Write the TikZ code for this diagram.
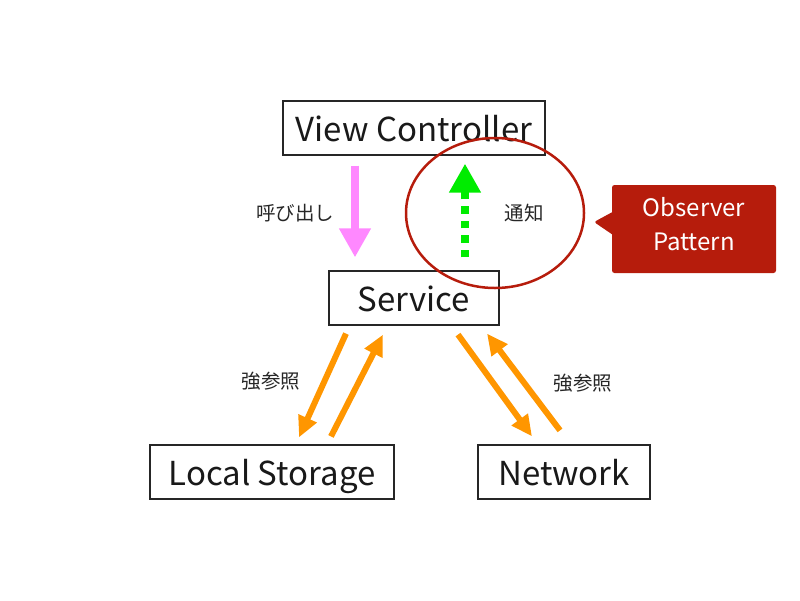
\documentclass[tikz,border=0pt]{standalone}
\usepackage{fontspec}
\setmainfont{Noto Sans CJK JP}
\usepackage{xcolor}
\usetikzlibrary{arrows.meta,shapes.geometric,shapes.callouts}

\definecolor{callpink}{RGB}{255,136,255}
\definecolor{notifygreen}{RGB}{0,236,0}
\definecolor{reforange}{RGB}{255,150,0}
\definecolor{obsred}{RGB}{182,28,12}

\begin{document}
\begin{tikzpicture}[
    x=1pt,
    y=-1pt,
    layer/.style={
        rectangle,
        draw=black!85,
        line width=1.2pt,
        minimum height=54pt,
        inner sep=0pt,
        text height=32pt,
        text depth=5pt,
        text=black!90,
        font=\fontsize{33}{38}\selectfont
    },
    tag/.style={
        text=black!85,
        font=\fontsize{19.5}{23}\selectfont
    },
    callarrow/.style={-{Triangle[length=29pt,width=30pt]}, line width=8pt, draw=callpink},
    notifyarrow/.style={-{Triangle[length=29pt,width=30pt]}, line width=7.5pt, draw=notifygreen,
        dash pattern=on 7.5pt off 7pt},
    refarrow/.style={-{Triangle[length=21pt,width=19pt]}, line width=6pt, draw=reforange}
]

\useasboundingbox (0,0) rectangle (800,600);

\node[layer, minimum width=262pt] (vc) at (414,128) {View Controller};
\node[layer, minimum width=170pt] (svc) at (414,298) {Service};
\node[layer, minimum width=244pt] (ls) at (272,472) {Local Storage};
\node[layer, minimum width=172pt] (net) at (564,472) {Network};

\draw[callarrow] ([xshift=-59pt,yshift=-10pt]vc.south) -- ([xshift=-59pt,yshift=13pt]svc.north);
\draw[notifyarrow] ([xshift=51pt,yshift=13pt]svc.north) -- ([xshift=51pt,yshift=-8pt]vc.south);

\draw[refarrow] ([xshift=-68pt,yshift=-8pt]svc.south) -- ([xshift=27pt,yshift=7pt]ls.north);
\draw[refarrow] ([xshift=59pt,yshift=8pt]ls.north) -- ([xshift=-31pt,yshift=-9pt]svc.south);
\draw[refarrow] ([xshift=44pt,yshift=-9pt]svc.south) -- ([xshift=-32pt,yshift=8pt]net.north);
\draw[refarrow] ([xshift=-4pt,yshift=14pt]net.north) -- ([xshift=73pt,yshift=-8pt]svc.south);

\node[tag] (call) at (295,213) {呼び出し};
\node[tag] (notify) at (524,213) {通知};
\node[tag] (strongl) at (271,381) {強参照};
\node[tag] (strongr) at (583,383) {強参照};

\node[ellipse, draw=obsred, line width=2.5pt, minimum width=178pt, minimum height=150pt, inner sep=0pt]
    (obs) at (495,213) {};

\node[rectangle callout, fill=obsred, text=white, minimum width=164pt, minimum height=88pt,
      callout absolute pointer={(594,222)}, callout pointer width=22pt, rounded corners=2.5pt,
      align=center, text depth=10pt, font=\fontsize{24}{34}\selectfont] (note) at (694,229) {Observer\\Pattern};

\end{tikzpicture}
\end{document}
